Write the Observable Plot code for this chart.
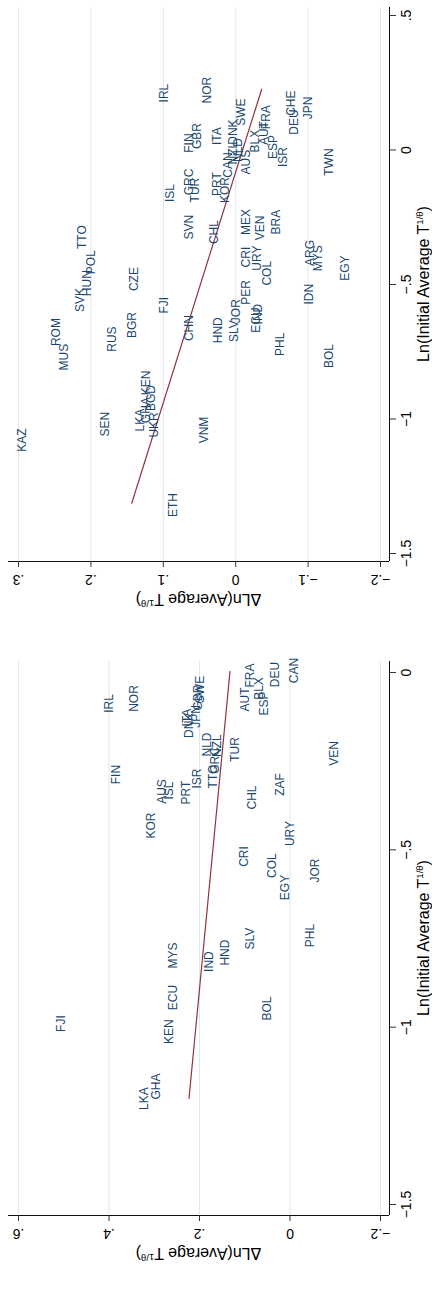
<!DOCTYPE html>
<html><head><meta charset="utf-8">
<script src="https://cdn.jsdelivr.net/npm/d3@7"></script>
<script src="https://cdn.jsdelivr.net/npm/@observablehq/plot@0.6"></script>
<style>
html,body{margin:0;padding:0;background:#fff;}
#wrap{width:432px;}
#wrap svg{display:block;}
</style></head><body><div id="wrap"></div>
<script>
// ---------- Top panel data ----------
const topCodes = ["IRL","NOR","FIN","GBR","ISL","GRC","TUR","SVN","TTO","POL","HUN","SVK","CZE","FJI","ROM","MUS","RUS","BGR","SEN","KAZ","LKA","GHA","KEN","BGD","UKR","CHN","VNM","ETH","HND","SLV","JOR","PER","ECU","IND","PHL","BOL","CHL","PRT","KOR","ITA","CAN","NZL","DNK","NLD","SWE","AUS","BLX","AUT","FRA","ESP","ISR","CHE","DEU","JPN","TWN","MEX","VEN","BRA","CRI","URY","COL","ARG","MYS","EGY","IDN"];
const topInitial = [0.2115,0.2227,0.0257,0.0517,-0.160,-0.119,-0.149,-0.287,-0.324,-0.417,-0.495,-0.558,-0.480,-0.577,-0.677,-0.770,-0.703,-0.651,-1.019,-1.078,-1.004,-0.967,-0.866,-0.922,-1.022,-0.662,-1.041,-1.320,-0.670,-0.673,-0.599,-0.529,-0.632,-0.610,-0.722,-0.766,-0.305,-0.127,-0.149,0.0517,-0.0561,-0.0115,0.0665,0.000,0.141,-0.045,0.033,0.063,0.122,0.011,-0.026,0.174,0.104,0.156,-0.045,-0.268,-0.290,-0.268,-0.398,-0.402,-0.458,-0.383,-0.402,-0.439,-0.536];
const topChange = [0.0994,0.0401,0.0649,0.0539,0.0912,0.0649,0.0566,0.0649,0.2127,0.2003,0.2058,0.2155,0.1409,0.0994,0.2486,0.2376,0.1713,0.1436,0.1809,0.2956,0.1326,0.1243,0.1243,0.1174,0.1133,0.0649,0.0442,0.0870,0.0249,0.0028,0.000,-0.0138,-0.0276,-0.0304,-0.0608,-0.1285,0.0304,0.0262,0.0152,0.0262,0.0110,0.0041,0.0041,-0.0028,-0.0069,-0.0138,-0.0262,-0.0387,-0.0414,-0.0511,-0.0649,-0.0759,-0.0801,-0.0994,-0.1285,-0.0138,-0.0331,-0.0552,-0.0138,-0.0290,-0.0428,-0.1022,-0.1133,-0.1506,-0.1008];
const topFitInitial = [-1.313, 0.226];
const topFitChange = [0.1436, -0.0359];
const topChangeTicks = [-0.2, -0.1, 0, 0.1, 0.2, 0.3];
const topChangeTickLabels = ["\u2212.2", "\u2212.1", "0", ".1", ".2", ".3"];
const topInitialTicks = [-1.5, -1, -0.5, 0, 0.5];
const topInitialTickLabels = ["\u22121.5", "\u22121", "\u2212.5", "0", ".5"];

// ---------- Bottom panel data ----------
const botCodes = ["IRL","NOR","FIN","AUS","ISL","KOR","PRT","ISR","TTO","GRC","NLD","NZL","DNK","ITA","JPN","GBR","SWE","AUT","FRA","BLX","ESP","DEU","CAN","TUR","VEN","CHL","ZAF","URY","CRI","COL","EGY","JOR","SLV","HND","IND","MYS","PHL","ECU","KEN","FJI","LKA","GHA","BOL"];
const botInitial = [-0.0874,-0.0733,-0.2877,-0.3356,-0.3328,-0.4315,-0.3384,-0.2989,-0.2933,-0.248,-0.203,-0.206,-0.149,-0.127,-0.124,-0.0705,-0.048,-0.0761,-0.0085,-0.0451,-0.0874,-0.0056,0.0056,-0.2171,-0.2284,-0.3525,-0.3158,-0.454,-0.5189,-0.5443,-0.6063,-0.5584,-0.7501,-0.7896,-0.815,-0.798,-0.7417,-0.9165,-1.0124,-0.9898,-1.2014,-1.1675,-0.9475];
const botChange = [0.400,0.3448,0.3845,0.2829,0.2674,0.3072,0.2298,0.2055,0.1702,0.1657,0.1834,0.1613,0.2232,0.2276,0.2077,0.2033,0.1989,0.0994,0.0884,0.0685,0.0575,0.0331,-0.0088,0.1215,-0.0972,0.0840,0.0221,0.000,0.1017,0.0398,0.011,-0.0552,0.0884,0.1436,0.179,0.2586,-0.0442,0.2586,0.2674,0.5061,0.3227,0.2961,0.0508];
const botFitInitial = [-1.201, 0.003];
const botFitChange = [0.2232, 0.1326];
const botChangeTicks = [-0.2, 0, 0.2, 0.4, 0.6];
const botChangeTickLabels = ["\u2212.2", "0", ".2", ".4", ".6"];
const botInitialTicks = [-1.5, -1, -0.5, 0];
const botInitialTickLabels = ["\u22121.5", "\u22121", "\u2212.5", "0"];

const xTitle = "Ln(Initial Average T";
const yTitle = "\u0394Ln(Average T";
const supText = "1/\u03b8";

const FONT = "'Liberation Sans', Arial, Helvetica, sans-serif";
const NAVY = "#1a476f";
const MAROON = "#90353b";
const GRID = "#dde8eb";

function panel(cfg) {
  const pts = cfg.codes.map((c, i) => ({code: c, init: cfg.initial[i], chg: cfg.change[i]}));
  const fit = cfg.fitInitial.map((v, i) => ({init: v, chg: cfg.fitChange[i]}));
  const H = cfg.height;
  const svg = Plot.plot({
    width: 432,
    height: H,
    marginLeft: 8,
    marginRight: 43,
    marginTop: cfg.mt,
    marginBottom: cfg.mb,
    x: {domain: cfg.xDomain},
    y: {domain: cfg.yDomain},
    style: {fontFamily: FONT, background: "#fff", color: "#000"},
    marks: [
      Plot.gridX(cfg.changeTicks, {stroke: GRID, strokeOpacity: 1, strokeWidth: 1}),
      Plot.ruleX([cfg.xDomain[1]], {stroke: "#111", strokeWidth: 1}),
      Plot.ruleY([cfg.yDomain[0]], {stroke: "#111", strokeWidth: 1}),
      Plot.axisX(cfg.changeTicks, {
        anchor: "bottom", tickSize: 6, tickPadding: 12, tickRotate: 180,
        textAnchor: "middle", lineAnchor: "middle", fontSize: 14, label: null,
        stroke: "#333",
        tickFormat: d => cfg.changeTickLabels[cfg.changeTicks.indexOf(d)]
      }),
      Plot.axisY(cfg.initialTicks, {
        anchor: "right", tickSize: 6, tickPadding: 11, tickRotate: -90,
        textAnchor: "middle", lineAnchor: "middle", fontSize: 14, label: null,
        stroke: "#333",
        tickFormat: d => cfg.initialTickLabels[cfg.initialTicks.indexOf(d)]
      }),
      Plot.line(fit, {x: "chg", y: "init", stroke: MAROON, strokeWidth: 1.2}),
      Plot.text(pts, {x: "chg", y: "init", text: "code", rotate: -90, fill: NAVY, fontSize: 12})
    ]
  });
  const s = d3.select(svg);
  const plotTop = cfg.mt, plotBottom = H - cfg.mb;
  // right-side title (rotated)
  const t1 = s.append("text")
    .attr("transform", `translate(429,${(plotTop + plotBottom) / 2}) rotate(-90)`)
    .attr("text-anchor", "middle").attr("font-family", FONT).attr("font-size", 16).attr("fill", "#000");
  t1.append("tspan").text(xTitle);
  t1.append("tspan").attr("font-size", 9.5).attr("dy", -6).text(supText);
  t1.append("tspan").attr("dy", 6).text(")");
  // bottom title (upside down)
  const t2 = s.append("text")
    .attr("transform", `translate(198.5,${plotBottom + 33}) rotate(180)`)
    .attr("text-anchor", "middle").attr("font-family", FONT).attr("font-size", 16).attr("fill", "#000");
  t2.append("tspan").text(yTitle);
  t2.append("tspan").attr("font-size", 9.5).attr("dy", -6).text(supText);
  t2.append("tspan").attr("dy", 6).text(")");
  return svg;
}

const wrap = document.getElementById("wrap");
wrap.appendChild(panel({
  codes: topCodes, initial: topInitial, change: topChange,
  fitInitial: topFitInitial, fitChange: topFitChange,
  changeTicks: topChangeTicks, changeTickLabels: topChangeTickLabels,
  initialTicks: topInitialTicks, initialTickLabels: topInitialTickLabels,
  height: 620, mt: 7, mb: 59,
  xDomain: [0.3138, -0.2124], yDomain: [-1.5297, 0.5297]
}));
wrap.appendChild(panel({
  codes: botCodes, initial: botInitial, change: botChange,
  fitInitial: botFitInitial, fitChange: botFitChange,
  changeTicks: botChangeTicks, changeTickLabels: botChangeTickLabels,
  initialTicks: botInitialTicks, initialTickLabels: botInitialTickLabels,
  height: 669, mt: 41, mb: 74,
  xDomain: [0.6221, -0.2199], yDomain: [-1.531, 0.031]
}));
</script>
</body></html>
